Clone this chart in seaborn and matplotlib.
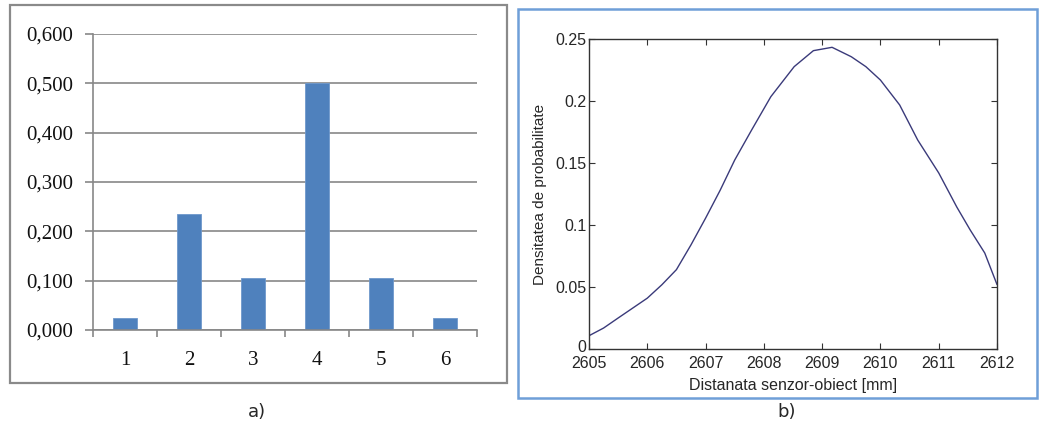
import numpy as np
import pandas as pd
import matplotlib
matplotlib.use("Agg")
import matplotlib.pyplot as plt
from matplotlib.patches import Rectangle
from matplotlib.ticker import FixedLocator
from matplotlib.transforms import ScaledTranslation
import seaborn as sns

# Panel a) : discrete probabilities per class
categories = ["1", "2", "3", "4", "5", "6"]
probabilities = [0.025, 0.236, 0.105, 0.500, 0.105, 0.025]
y_ticks_a = [0.0, 0.1, 0.2, 0.3, 0.4, 0.5, 0.6]

# Panel b) : probability density vs. sensor-object distance
distance_mm = [2605.0, 2605.25, 2605.5, 2605.75, 2606.0, 2606.25, 2606.5, 2606.75,
               2607.0, 2607.25, 2607.5, 2607.79, 2608.12, 2608.52, 2608.85,
               2609.17, 2609.5, 2609.75, 2610.0, 2610.33, 2610.64, 2611.0,
               2611.31, 2611.54, 2611.79, 2612.0]
density = [0.0107, 0.0169, 0.025, 0.033, 0.041, 0.0518, 0.064, 0.084,
           0.1055, 0.128, 0.1524, 0.1766, 0.2035, 0.2277, 0.2406,
           0.2433, 0.2357, 0.2277, 0.2169, 0.1968, 0.1685, 0.142,
           0.1145, 0.096, 0.0774, 0.052]
x_ticks_b = [2605, 2606, 2607, 2608, 2609, 2610, 2611, 2612]
y_ticks_b = [0, 0.05, 0.1, 0.15, 0.2, 0.25]

sns.set_theme(style="white")
plt.rcParams["font.family"] = ["DejaVu Sans"]

W, H = 1051, 432
fig = plt.figure(figsize=(W / 100, H / 100), dpi=100)
fig.patch.set_facecolor("white")


def fig_rect(x0, y0, x1, y1):
    """Convert pixel box (top-left origin) to figure fraction [l, b, w, h]."""
    return [x0 / W, 1 - y1 / H, (x1 - x0) / W, (y1 - y0) / H]


# ---- frames around both panels ----
l, b, w, h = fig_rect(10, 5, 507, 383)
fig.patches.append(Rectangle((l, b), w, h, transform=fig.transFigure,
                             fill=False, edgecolor="#8a8a8a", linewidth=1.6))
l, b, w, h = fig_rect(518, 9, 1037, 398)
fig.patches.append(Rectangle((l, b), w, h, transform=fig.transFigure,
                             fill=False, edgecolor="#6f9fd8", linewidth=1.8))

# ---- panel a) ----
ax1 = fig.add_axes(fig_rect(93, 34, 477, 330))
df_a = pd.DataFrame({"cls": categories, "p": probabilities})
sns.barplot(data=df_a, x="cls", y="p", ax=ax1, color="#4f81bd",
            saturation=1, width=0.39, edgecolor="#6f98cc", linewidth=0.6)
ax1.set_xlim(-0.5, len(categories) - 0.5)
ax1.set_ylim(0, 0.6)
ax1.set_yticks(y_ticks_a)
ax1.set_yticklabels([f"{v:.3f}".replace(".", ",") for v in y_ticks_a])
ax1.yaxis.grid(True, color="#878787", linewidth=1.2)
ax1.set_axisbelow(True)
ax1.set_xlabel("")
ax1.set_ylabel("")
for side in ["top", "right"]:
    ax1.spines[side].set_visible(False)
ax1.spines["left"].set_color("#878787")
ax1.spines["bottom"].set_color("#878787")
ax1.spines["left"].set_linewidth(1.2)
ax1.spines["bottom"].set_linewidth(1.2)
ax1.xaxis.set_minor_locator(FixedLocator(np.arange(-0.5, len(categories), 1.0)))
ax1.tick_params(axis="x", which="major", length=0, pad=15)
ax1.tick_params(axis="x", which="minor", length=5, width=1.2, color="#878787",
                direction="out", bottom=True)
ax1.tick_params(axis="y", length=6, width=1.2, color="#878787",
                direction="out", left=True, pad=8)
for lab in ax1.get_xticklabels() + ax1.get_yticklabels():
    lab.set_fontfamily("Liberation Serif")
    lab.set_fontsize(15)
    lab.set_color("#111111")

# ---- panel b) ----
ax2 = fig.add_axes(fig_rect(589, 39, 997, 349))
df_b = pd.DataFrame({"d": distance_mm, "pdf": density})
sns.lineplot(data=df_b, x="d", y="pdf", ax=ax2, color="#3a3a7a", linewidth=1.0)
ax2.set_xlim(2605, 2612)
ax2.set_ylim(0, 0.25)
ax2.set_xticks(x_ticks_b)
ax2.set_yticks(y_ticks_b)
ax2.set_xticklabels([str(v) for v in x_ticks_b])
ax2.set_yticklabels(["0", "0.05", "0.1", "0.15", "0.2", "0.25"])
for side in ax2.spines.values():
    side.set_color("#333333")
    side.set_linewidth(1.0)
    side.set_visible(True)
ax2.tick_params(axis="both", direction="in", length=4, width=0.8,
                color="#333333", top=True, right=True, bottom=True, left=True,
                labelsize=11.5, pad=2)
ax2.tick_params(axis="x", pad=5)
for lab in ax2.get_xticklabels() + ax2.get_yticklabels():
    lab.set_fontfamily("Liberation Sans")
# nudge the "0" label up a little so it clears the first x tick label
zero_lab = ax2.get_yticklabels()[0]
zero_lab.set_transform(zero_lab.get_transform()
                       + ScaledTranslation(0, 3 / 100, fig.dpi_scale_trans))
ax2.set_xlabel("Distanata senzor-obiect [mm]", fontfamily="Liberation Sans",
               fontsize=11.5, labelpad=5)
ax2.set_ylabel("Densitatea de probabilitate", fontfamily="Liberation Sans",
               fontsize=11, labelpad=6)

# ---- captions ----
fig.text(257 / W, 1 - 412 / H, "a)", ha="center", va="center",
         fontsize=13, fontfamily="DejaVu Sans")
fig.text(787 / W, 1 - 412 / H, "b)", ha="center", va="center",
         fontsize=13, fontfamily="DejaVu Sans")

fig.savefig("out.png", dpi=100, facecolor="white")
